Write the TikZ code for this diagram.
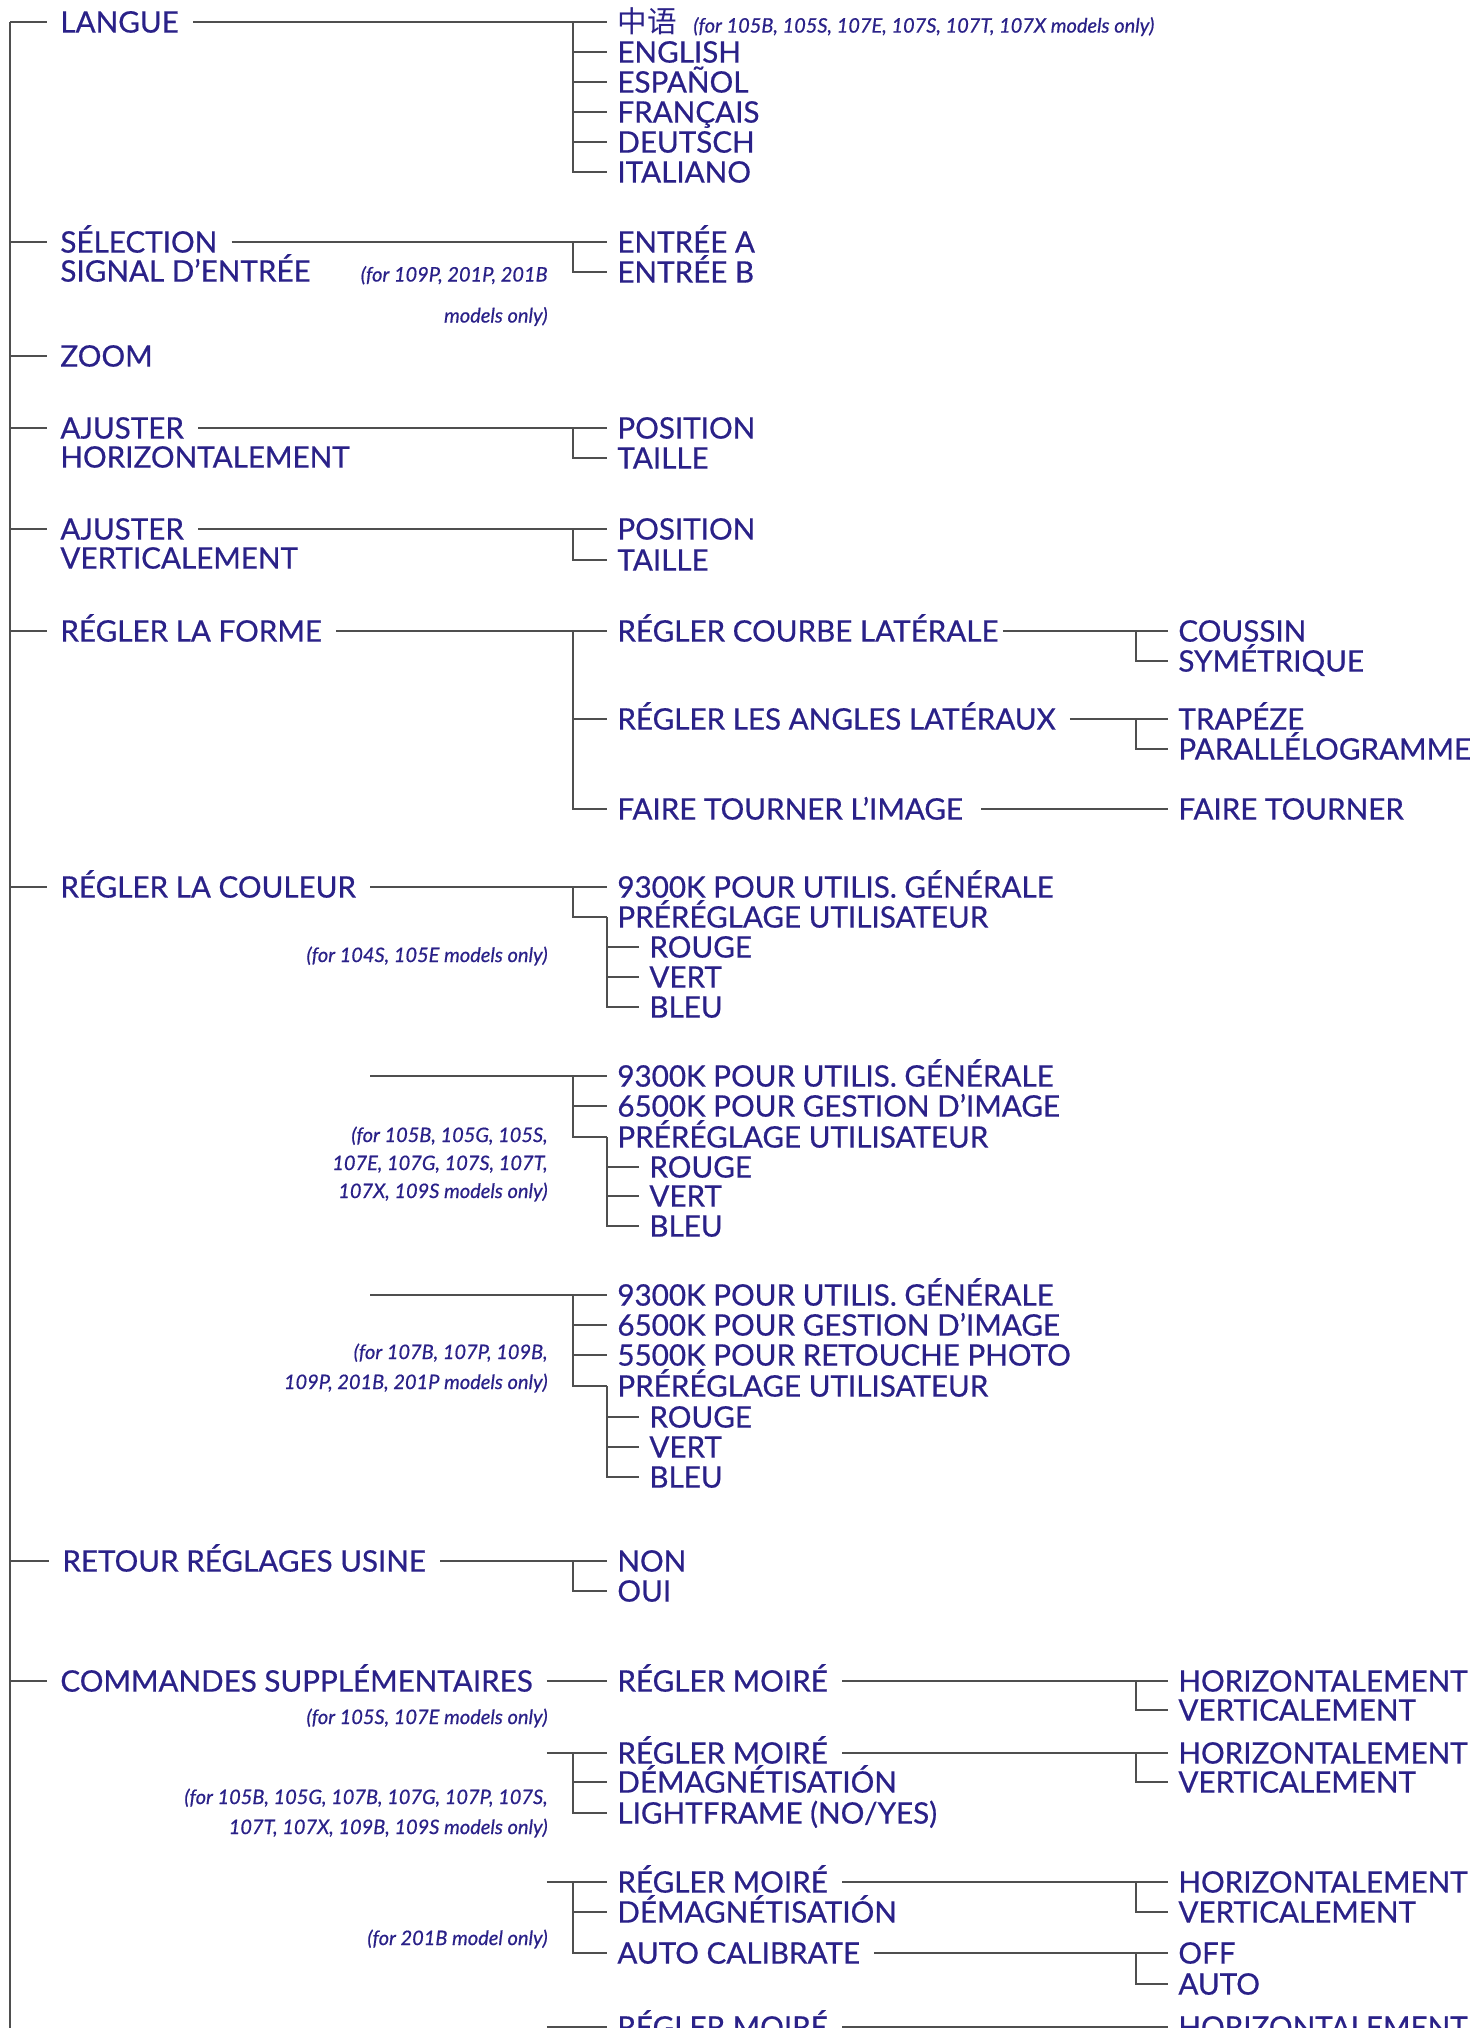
\documentclass[tikz,border=0pt]{standalone}
\usepackage{fontspec}
\setmainfont{Lato}[FakeBold=0.6]
\newfontfamily\cjkfont{Noto Sans CJK SC}
\usetikzlibrary{positioning}

\definecolor{menublau}{HTML}{2A2188}
\definecolor{liniengrau}{HTML}{4F4F4F}

\begin{document}
\begin{tikzpicture}[%
    x=0.5pt, y=-0.5pt, % 1 Einheit = 1 Bildpunkt
    font=\fontsize{14.8}{16}\selectfont
    ]
        \tikzset{
            Punkt/.style={anchor=west,inner sep=0pt,text=menublau,
                text height=10.6pt,text depth=0pt}, % Menuepunkte
            Hinweis/.style={anchor=east,inner sep=0pt,text=menublau,align=right,
                font=\fontsize{10}{14}\selectfont\itshape}, % Modellhinweise
            Linie/.style={draw=liniengrau,line width=1.1pt},
            Ast/.style={Linie,shorten <=#1,shorten >=5pt}, % Punkt -> Unterpunkt
            Ast/.default=7pt
        }
        \clip (0,0) rectangle (1481,2028);

        % Hauptmenue
        \node[Punkt] (langue)    at (60,22)   {LANGUE};
        \node[Punkt] (selection) at (60,242)  {SÉLECTION};
        \node[Punkt] (signal)    at (60,271)  {SIGNAL D'ENTRÉE};
        \node[Punkt] (zoom)      at (60,356)  {ZOOM};
        \node[Punkt] (ajusterH)  at (60,428)  {AJUSTER};
        \node[Punkt] (horizH)    at (60,457)  {HORIZONTALEMENT};
        \node[Punkt] (ajusterV)  at (60,529)  {AJUSTER};
        \node[Punkt] (vertV)     at (60,558)  {VERTICALEMENT};
        \node[Punkt] (forme)     at (60,631)  {RÉGLER LA FORME};
        \node[Punkt] (couleur)   at (60,887)  {RÉGLER LA COULEUR};
        \node[Punkt] (retour)    at (62,1561) {RETOUR RÉGLAGES USINE};
        \node[Punkt] (commandes) at (60,1681) {COMMANDES SUPPLÉMENTAIRES};

        % Sprachen
        \node[Punkt] (zh)       at (617,22)  {\cjkfont 中语};
        \node[Punkt] (english)  at (617,52)  {ENGLISH};
        \node[Punkt] (espanol)  at (617,82)  {ESPAÑOL};
        \node[Punkt] (francais) at (617,112) {FRANÇAIS};
        \node[Punkt] (deutsch)  at (617,142) {DEUTSCH};
        \node[Punkt] (italiano) at (617,172) {ITALIANO};
        \node[Hinweis, base right=8pt of zh] (hinweisZh)
            {(for 105B, 105S, 107E, 107S, 107T, 107X models only)};

        % Eingang
        \node[Punkt] (entreeA) at (617,242) {ENTRÉE A};
        \node[Punkt] (entreeB) at (617,272) {ENTRÉE B};
        \node[Hinweis, font=\fontsize{10}{20.5}\selectfont\itshape] (hinweisSel)
            at (548,296) {(for 109P, 201P, 201B\\models only)};

        % Geometrie
        \node[Punkt] (posH)    at (617,428) {POSITION};
        \node[Punkt] (tailleH) at (617,458) {TAILLE};
        \node[Punkt] (posV)    at (617,529) {POSITION};
        \node[Punkt] (tailleV) at (617,560) {TAILLE};

        % Form
        \node[Punkt] (courbe)     at (617,631)  {RÉGLER COURBE LATÉRALE};
        \node[Punkt] (angles)     at (617,719)  {RÉGLER LES ANGLES LATÉRAUX};
        \node[Punkt] (tourner)    at (617,809)  {FAIRE TOURNER L'IMAGE};
        \node[Punkt] (coussin)    at (1178,631) {COUSSIN};
        \node[Punkt] (symetrique) at (1178,661) {SYMÉTRIQUE};
        \node[Punkt] (trapeze)    at (1178,719) {TRAPÉZE};
        \node[Punkt] (parallelo)  at (1178,749) {PARALLÉLOGRAMME};
        \node[Punkt] (tournerB)   at (1178,809) {FAIRE TOURNER};

        % Farbe, Variante A
        \node[Punkt] (aK93)   at (617,887)  {9300K POUR UTILIS. GÉNÉRALE};
        \node[Punkt] (aPre)   at (617,917)  {PRÉRÉGLAGE UTILISATEUR};
        \node[Punkt] (aRouge) at (649,947)  {ROUGE};
        \node[Punkt] (aVert)  at (649,977)  {VERT};
        \node[Punkt] (aBleu)  at (649,1007) {BLEU};
        \node[Hinweis] (hinweisA) at (548,956) {(for 104S, 105E models only)};

        % Farbe, Variante B
        \node[Punkt] (bK93)   at (617,1076) {9300K POUR UTILIS. GÉNÉRALE};
        \node[Punkt] (bK65)   at (617,1106) {6500K POUR GESTION D'IMAGE};
        \node[Punkt] (bPre)   at (617,1137) {PRÉRÉGLAGE UTILISATEUR};
        \node[Punkt] (bRouge) at (649,1167) {ROUGE};
        \node[Punkt] (bVert)  at (649,1196) {VERT};
        \node[Punkt] (bBleu)  at (649,1226) {BLEU};
        \node[Hinweis] (hinweisB) at (548,1164)
            {(for 105B, 105G, 105S,\\107E, 107G, 107S, 107T,\\107X, 109S models only)};

        % Farbe, Variante C
        \node[Punkt] (cK93)   at (617,1295) {9300K POUR UTILIS. GÉNÉRALE};
        \node[Punkt] (cK65)   at (617,1325) {6500K POUR GESTION D'IMAGE};
        \node[Punkt] (cK55)   at (617,1355) {5500K POUR RETOUCHE PHOTO};
        \node[Punkt] (cPre)   at (617,1386) {PRÉRÉGLAGE UTILISATEUR};
        \node[Punkt] (cRouge) at (649,1417) {ROUGE};
        \node[Punkt] (cVert)  at (649,1447) {VERT};
        \node[Punkt] (cBleu)  at (649,1477) {BLEU};
        \node[Hinweis, font=\fontsize{10}{15}\selectfont\itshape] (hinweisC)
            at (548,1368) {(for 107B, 107P, 109B,\\109P, 201B, 201P models only)};

        % Werkseinstellung
        \node[Punkt] (non) at (617,1561) {NON};
        \node[Punkt] (oui) at (617,1591) {OUI};

        % Zusatzbefehle
        \node[Punkt] (moireA) at (617,1681)  {RÉGLER MOIRÉ};
        \node[Punkt] (horA)   at (1178,1681) {HORIZONTALEMENT};
        \node[Punkt] (verA)   at (1178,1710) {VERTICALEMENT};
        \node[Hinweis] (hinweisD) at (548,1718) {(for 105S, 107E models only)};

        \node[Punkt] (moireB) at (617,1753)  {RÉGLER MOIRÉ};
        \node[Punkt] (demagB) at (617,1782)  {DÉMAGNÉTISATIÓN};
        \node[Punkt] (light)  at (617,1813)  {LIGHTFRAME (NO/YES)};
        \node[Punkt] (horB)   at (1178,1753) {HORIZONTALEMENT};
        \node[Punkt] (verB)   at (1178,1782) {VERTICALEMENT};
        \node[Hinweis, font=\fontsize{10}{15}\selectfont\itshape] (hinweisE)
            at (548,1813) {(for 105B, 105G, 107B, 107G, 107P, 107S,\\107T, 107X, 109B, 109S models only)};

        \node[Punkt] (moireC) at (617,1882)  {RÉGLER MOIRÉ};
        \node[Punkt] (demagC) at (617,1912)  {DÉMAGNÉTISATIÓN};
        \node[Punkt] (calib)  at (617,1953)  {AUTO CALIBRATE};
        \node[Punkt] (horC)   at (1178,1882) {HORIZONTALEMENT};
        \node[Punkt] (verC)   at (1178,1912) {VERTICALEMENT};
        \node[Punkt] (off)    at (1178,1953) {OFF};
        \node[Punkt] (auto)   at (1178,1984) {AUTO};
        \node[Hinweis] (hinweisF) at (548,1939) {(for 201B model only)};

        \node[Punkt] (moireD) at (617,2027)  {RÉGLER MOIRÉ};
        \node[Punkt] (horD)   at (1178,2027) {HORIZONTALEMENT};

        % Stamm
        \coordinate (stamm) at (10,22);
        \coordinate (stammEnde) at (10,2040);
        \coordinate (couleurX) at ([xshift=7pt]couleur.east);
        \coordinate (commandesX) at ([xshift=7pt]commandes.east);

        \draw[Linie] (stamm) -- (stammEnde)
            (langue.west -| stamm)    -- ([xshift=-6.5pt]langue.west)
            (selection.west -| stamm) -- ([xshift=-6.5pt]selection.west)
            (zoom.west -| stamm)      -- ([xshift=-6.5pt]zoom.west)
            (ajusterH.west -| stamm)  -- ([xshift=-6.5pt]ajusterH.west)
            (ajusterV.west -| stamm)  -- ([xshift=-6.5pt]ajusterV.west)
            (forme.west -| stamm)     -- ([xshift=-6.5pt]forme.west)
            (couleur.west -| stamm)   -- ([xshift=-6.5pt]couleur.west)
            (retour.west -| stamm)    -- ([xshift=-6.5pt]retour.west)
            (commandes.west -| stamm) -- ([xshift=-6.5pt]commandes.west);

        % Aeste
        \draw[Ast] (langue.east) -- (zh.west);
        \draw[Ast] (selection.east) -- (entreeA.west);
        \draw[Ast] (ajusterH.east) -- (posH.west);
        \draw[Ast] (ajusterV.east) -- (posV.west);
        \draw[Ast] (forme.east) -- (courbe.west);
        \draw[Ast] (couleur.east) -- (aK93.west);
        \draw[Ast] (retour.east) -- (non.west);
        \draw[Ast] (commandes.east) -- (moireA.west);
        \draw[Ast=2pt] (courbe.east) -- (coussin.west);
        \draw[Ast] (angles.east) -- (trapeze.west);
        \draw[Ast=9pt] (tourner.east) -- (tournerB.west);
        \draw[Ast] (moireA.east) -- (horA.west);
        \draw[Ast] (moireB.east) -- (horB.west);
        \draw[Ast] (moireC.east) -- (horC.west);
        \draw[Ast] (calib.east) -- (off.west);
        \draw[Ast] (moireD.east) -- (horD.west);
        \draw[Ast=0pt] (couleurX |- bK93.west) -- (bK93.west);
        \draw[Ast=0pt] (couleurX |- cK93.west) -- (cK93.west);
        \draw[Ast=0pt] (commandesX |- moireB.west) -- (moireB.west);
        \draw[Ast=0pt] (commandesX |- moireC.west) -- (moireC.west);
        \draw[Ast=0pt] (commandesX |- moireD.west) -- (moireD.west);

        % Klammern
        \draw[Linie]
            ([xshift=-22pt]zh.west) |- ([xshift=-5pt]italiano.west)
            ([xshift=-22pt]english.west)  -- ([xshift=-5pt]english.west)
            ([xshift=-22pt]espanol.west)  -- ([xshift=-5pt]espanol.west)
            ([xshift=-22pt]francais.west) -- ([xshift=-5pt]francais.west)
            ([xshift=-22pt]deutsch.west)  -- ([xshift=-5pt]deutsch.west)
            ([xshift=-22pt]entreeA.west) |- ([xshift=-5pt]entreeB.west)
            ([xshift=-22pt]posH.west) |- ([xshift=-5pt]tailleH.west)
            ([xshift=-22pt]posV.west) |- ([xshift=-5pt]tailleV.west)
            ([xshift=-22pt]courbe.west) |- ([xshift=-5pt]tourner.west)
            ([xshift=-22pt]angles.west) -- ([xshift=-5pt]angles.west)
            ([xshift=-21pt]coussin.west) |- ([xshift=-5pt]symetrique.west)
            ([xshift=-21pt]trapeze.west) |- ([xshift=-5pt]parallelo.west)
            ([xshift=-22pt]non.west) |- ([xshift=-5pt]oui.west);

        \draw[Linie]
            ([xshift=-22pt]aK93.west) |- ([xshift=-5pt]aPre.west)
            ([xshift=-5pt]aPre.west) |- ([xshift=-5pt]aBleu.west)
            ([xshift=-21pt]aRouge.west) -- ([xshift=-5pt]aRouge.west)
            ([xshift=-21pt]aVert.west)  -- ([xshift=-5pt]aVert.west)
            ([xshift=-22pt]bK93.west) |- ([xshift=-5pt]bPre.west)
            ([xshift=-22pt]bK65.west) -- ([xshift=-5pt]bK65.west)
            ([xshift=-5pt]bPre.west) |- ([xshift=-5pt]bBleu.west)
            ([xshift=-21pt]bRouge.west) -- ([xshift=-5pt]bRouge.west)
            ([xshift=-21pt]bVert.west)  -- ([xshift=-5pt]bVert.west)
            ([xshift=-22pt]cK93.west) |- ([xshift=-5pt]cPre.west)
            ([xshift=-22pt]cK65.west) -- ([xshift=-5pt]cK65.west)
            ([xshift=-22pt]cK55.west) -- ([xshift=-5pt]cK55.west)
            ([xshift=-5pt]cPre.west) |- ([xshift=-5pt]cBleu.west)
            ([xshift=-21pt]cRouge.west) -- ([xshift=-5pt]cRouge.west)
            ([xshift=-21pt]cVert.west)  -- ([xshift=-5pt]cVert.west);

        \draw[Linie]
            ([xshift=-21pt]horA.west) |- ([xshift=-5pt]verA.west)
            ([xshift=-22pt]moireB.west) |- ([xshift=-5pt]light.west)
            ([xshift=-22pt]demagB.west) -- ([xshift=-5pt]demagB.west)
            ([xshift=-21pt]horB.west) |- ([xshift=-5pt]verB.west)
            ([xshift=-22pt]moireC.west) |- ([xshift=-5pt]calib.west)
            ([xshift=-22pt]demagC.west) -- ([xshift=-5pt]demagC.west)
            ([xshift=-21pt]horC.west) |- ([xshift=-5pt]verC.west)
            ([xshift=-21pt]off.west) |- ([xshift=-5pt]auto.west)
            ([xshift=-22pt]moireD.west) -- ++(0,30)
            ([xshift=-21pt]horD.west) -- ++(0,30);
\end{tikzpicture}
\end{document}
